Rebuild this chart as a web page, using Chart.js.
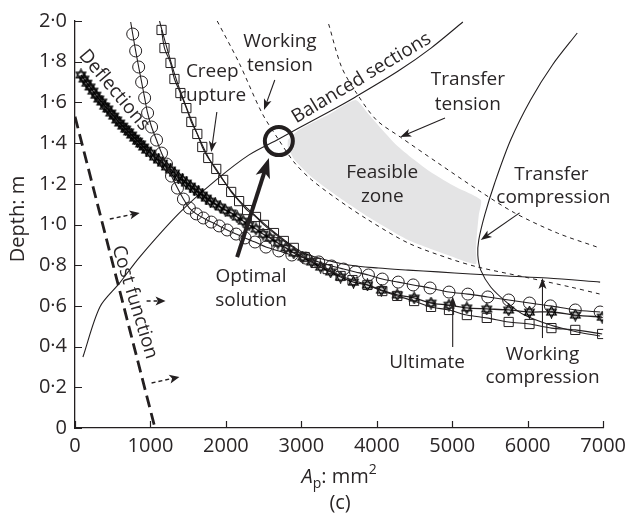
<!DOCTYPE html>
<html>
<head>
<meta charset="utf-8">
<script src="https://cdn.jsdelivr.net/npm/chart.js@4.4.1/dist/chart.umd.min.js"></script>
<style>
  html, body { margin: 0; padding: 0; background: #fff; }
  #wrap { width: 632px; height: 515px; }
</style>
</head>
<body>
<div id="wrap"><canvas id="chart" width="632" height="515"></canvas></div>
<script>
// Design space: prestressing steel area A_p (mm²) against section depth (m)

const xTicks = [0, 1000, 2000, 3000, 4000, 5000, 6000, 7000];
const xTickLabels = ['0', '1000', '2000', '3000', '4000', '5000', '6000', '7000'];
const yTicks = [0, 0.2, 0.4, 0.6, 0.8, 1.0, 1.2, 1.4, 1.6, 1.8, 2.0];
const yTickLabels = ['0', '0·2', '0·4', '0·6', '0·8', '1·0', '1·2', '1·4', '1·6', '1·8', '2·0'];

// Cost function contour and its direction arrows
const costFunction = [[0, 1.53], [1060, 0]];
const costArrows = [
  [[461, 1.027], [857, 1.057]],
  [[949, 0.624], [1200, 0.624]],
  [[1015, 0.221], [1384, 0.251]]
];

// Constraint boundaries (plain curves)
const balancedSections = [[105, 0.349], [330, 0.595], [593, 0.713], [857, 0.840], [1384, 1.057],
  [1872, 1.219], [2307, 1.342], [2702, 1.420], [2966, 1.474], [3362, 1.553], [3718, 1.627],
  [4284, 1.754], [4719, 1.867], [5141, 1.995]];
const workingTension = [[1885, 2.0], [2175, 1.794], [2478, 1.548], [2702, 1.415], [2913, 1.302],
  [3137, 1.219], [3493, 1.120], [3889, 1.022], [4416, 0.909], [4943, 0.835], [5339, 0.791],
  [5958, 0.742], [6565, 0.693], [6960, 0.658]];
const transferTension = [[3362, 1.985], [3533, 1.774], [3731, 1.646], [3994, 1.514], [4311, 1.430],
  [4812, 1.302], [5339, 1.170], [5827, 1.057], [6394, 0.958], [6921, 0.889]];
const transferCompression = [[6657, 1.941], [6328, 1.784], [6038, 1.612], [5774, 1.415], [5563, 1.204],
  [5431, 1.047], [5352, 0.924], [5339, 0.850], [5378, 0.776], [5510, 0.693], [5734, 0.614],
  [5958, 0.555], [6301, 0.506], [6657, 0.472], [6960, 0.452]];
const workingCompression = [[1120, 2.0], [1226, 1.857], [1345, 1.710], [1476, 1.577], [1621, 1.445],
  [1780, 1.322], [1951, 1.224], [2175, 1.118], [2399, 1.040], [2637, 0.963], [2795, 0.918],
  [3000, 0.866], [3230, 0.835], [3625, 0.801], [4021, 0.786], [4416, 0.776], [4812, 0.767],
  [5247, 0.757], [5734, 0.747], [6262, 0.737], [6960, 0.717]];

// Constraint boundaries traced point by point
const creepRupture = [[1147, 1.956], [1186, 1.867], [1266, 1.794], [1318, 1.715], [1397, 1.646],
  [1476, 1.572], [1542, 1.504], [1621, 1.445], [1687, 1.381], [1766, 1.327], [1872, 1.273],
  [1964, 1.219], [2070, 1.160], [2175, 1.115], [2281, 1.071], [2399, 1.037], [2505, 0.998],
  [2637, 0.958], [2768, 0.919], [2900, 0.885], [3045, 0.840], [3190, 0.811], [3348, 0.781],
  [3520, 0.747], [3678, 0.727], [3876, 0.703], [4073, 0.673], [4271, 0.649], [4495, 0.624],
  [4719, 0.595], [4957, 0.580], [5194, 0.555], [5458, 0.541], [5748, 0.521], [6024, 0.511],
  [6315, 0.491], [6631, 0.482], [6987, 0.462]];
const ultimate = [[738, 1.995], [765, 1.936], [804, 1.853], [844, 1.774], [883, 1.700], [923, 1.622],
  [962, 1.548], [1015, 1.479], [1081, 1.415], [1147, 1.351], [1213, 1.297], [1279, 1.238],
  [1358, 1.179], [1437, 1.125], [1516, 1.081], [1608, 1.052], [1701, 1.032], [1806, 1.012],
  [1911, 0.993], [2017, 0.973], [2136, 0.953], [2254, 0.934], [2386, 0.914], [2531, 0.889],
  [2702, 0.870], [2874, 0.850], [3058, 0.835], [3230, 0.816], [3401, 0.796], [3559, 0.781],
  [3718, 0.767], [3889, 0.752], [4073, 0.732], [4284, 0.717], [4482, 0.703], [4706, 0.688],
  [4957, 0.668], [5207, 0.658], [5471, 0.644], [5748, 0.629], [6024, 0.614], [6301, 0.600],
  [6631, 0.580], [6960, 0.570]];
const deflections = [[79, 1.735], [119, 1.715], [158, 1.695], [198, 1.676], [237, 1.656], [277, 1.636],
  [316, 1.617], [356, 1.602], [395, 1.582], [435, 1.568], [475, 1.548], [514, 1.533], [554, 1.514],
  [593, 1.499], [633, 1.484], [672, 1.469], [712, 1.455], [751, 1.440], [791, 1.425], [830, 1.410],
  [870, 1.396], [910, 1.381], [949, 1.366], [1002, 1.351], [1055, 1.332], [1107, 1.317],
  [1160, 1.302], [1213, 1.283], [1266, 1.268], [1318, 1.253], [1371, 1.233], [1424, 1.219],
  [1476, 1.204], [1529, 1.189], [1582, 1.174], [1635, 1.160], [1687, 1.145], [1740, 1.130],
  [1793, 1.115], [1859, 1.101], [1925, 1.086], [1991, 1.071], [2070, 1.057], [2149, 1.037],
  [2228, 1.017], [2307, 0.998], [2399, 0.978], [2492, 0.953], [2584, 0.934], [2689, 0.909],
  [2795, 0.885], [2900, 0.860], [3019, 0.840], [3137, 0.816], [3256, 0.791], [3388, 0.767],
  [3520, 0.742], [3691, 0.717], [3876, 0.703], [4060, 0.678], [4271, 0.654], [4495, 0.639],
  [4719, 0.614], [4957, 0.604], [5194, 0.590], [5458, 0.585], [5748, 0.580], [6024, 0.570],
  [6315, 0.570], [6631, 0.555], [6987, 0.545]];

// Region satisfying every constraint
const feasibleZone = [[2821, 1.415], [2966, 1.464], [3362, 1.540], [3718, 1.612], [3889, 1.543],
  [4087, 1.459], [4245, 1.396], [4482, 1.322], [4733, 1.253], [5049, 1.184], [5379, 1.120],
  [5352, 1.047], [5326, 0.948], [5313, 0.875], [5313, 0.806], [4943, 0.850], [4416, 0.924],
  [3889, 1.037], [3493, 1.135], [3137, 1.233], [2913, 1.317], [2821, 1.381], [2821, 1.415]];

// Optimum and the arrows pointing at it / at each boundary
const optimum = [[2702, 1.410]];
const optimumArrow = [[2149, 0.840], [2570, 1.327]];
const pointerArrows = [
  [[2648, 1.710], [2505, 1.563]],
  [[1880, 1.553], [1806, 1.356]],
  [[4904, 1.523], [4311, 1.430]],
  [[5893, 1.057], [5378, 0.924]],
  [[5006, 0.398], [5006, 0.648]],
  [[6196, 0.442], [6196, 0.737]]
];

// Annotation texts (anchored in data units)
const notes = [
  { t: 'Working', x: 2716, y: 1.872 }, { t: 'tension', x: 2716, y: 1.754 },
  { t: 'Creep', x: 1819, y: 1.725 }, { t: 'rupture', x: 1819, y: 1.607 },
  { t: 'Transfer', x: 5207, y: 1.686 }, { t: 'tension', x: 5207, y: 1.563 },
  { t: 'Feasible', x: 4073, y: 1.229 }, { t: 'zone', x: 4073, y: 1.111 },
  { t: 'Transfer', x: 6315, y: 1.219 }, { t: 'compression', x: 6341, y: 1.106 },
  { t: 'Optimal', x: 2333, y: 0.717 }, { t: 'solution', x: 2333, y: 0.600 },
  { t: 'Ultimate', x: 4667, y: 0.295 },
  { t: 'Working', x: 6196, y: 0.334 }, { t: 'compression', x: 6196, y: 0.221 },
  { t: 'Deflections', x: 520, y: 1.660, rot: 50 },
  { t: 'Balanced sections', x: 3797, y: 1.720, rot: -31 },
  { t: 'Cost function', x: 791, y: 0.619, rot: 73 }
];

const INK = '#231f20';
const FONT = '"Open Sans", "DejaVu Sans", sans-serif';

const pts = arr => arr.map(([x, y]) => ({ x, y }));

// open hexagram marker
function hexagram(size) {
  const c = document.createElement('canvas');
  c.width = c.height = size;
  const g = c.getContext('2d');
  const r = size / 2 - 1, cx = size / 2, cy = size / 2;
  g.strokeStyle = '#000';
  g.lineWidth = 1.25;
  [-Math.PI / 2, Math.PI / 2].forEach(rot => {
    g.beginPath();
    for (let i = 0; i < 3; i++) {
      const a = rot + i * 2 * Math.PI / 3;
      const px = cx + r * Math.cos(a), py = cy + r * Math.sin(a);
      i ? g.lineTo(px, py) : g.moveTo(px, py);
    }
    g.closePath();
    g.stroke();
  });
  return c;
}

function drawArrow(ctx, x1, y1, x2, y2, len, wid, lw, dash) {
  const a = Math.atan2(y2 - y1, x2 - x1);
  const bx = x2 - len * Math.cos(a), by = y2 - len * Math.sin(a);
  ctx.save();
  ctx.lineWidth = lw;
  ctx.setLineDash(dash || []);
  ctx.beginPath();
  ctx.moveTo(x1, y1);
  ctx.lineTo(bx + 0.3 * len * Math.cos(a), by + 0.3 * len * Math.sin(a));
  ctx.stroke();
  ctx.setLineDash([]);
  const nx = Math.sin(a) * wid / 2, ny = -Math.cos(a) * wid / 2;
  ctx.beginPath();
  ctx.moveTo(x2, y2);
  ctx.lineTo(bx + nx, by + ny);
  ctx.lineTo(bx + 0.25 * len * Math.cos(a), by + 0.25 * len * Math.sin(a));
  ctx.lineTo(bx - nx, by - ny);
  ctx.closePath();
  ctx.fill();
  ctx.restore();
}

const decor = {
  id: 'decor',
  afterDatasetsDraw(chart) {
    const { ctx, chartArea: a, scales: { x, y } } = chart;
    const X = v => x.getPixelForValue(v), Y = v => y.getPixelForValue(v);
    ctx.save();
    ctx.strokeStyle = INK;
    ctx.fillStyle = INK;

    // inward tick marks
    ctx.lineWidth = 1.2;
    ctx.beginPath();
    xTicks.forEach(v => { const px = Math.round(X(v)) + 0.5; ctx.moveTo(px, a.bottom); ctx.lineTo(px, a.bottom - 7); });
    yTicks.forEach(v => { const py = Math.round(Y(v)) + 0.5; ctx.moveTo(a.left, py); ctx.lineTo(a.left + 7, py); });
    ctx.stroke();

    // cost direction arrows
    costArrows.forEach(([p, q]) => drawArrow(ctx, X(p[0]), Y(p[1]), X(q[0]), Y(q[1]), 10, 9, 1.4, [4, 3]));
    // label pointers
    pointerArrows.forEach(([p, q]) => drawArrow(ctx, X(p[0]), Y(p[1]), X(q[0]), Y(q[1]), 11, 8, 1.1));
    // arrow to the optimum
    drawArrow(ctx, X(optimumArrow[0][0]), Y(optimumArrow[0][1]), X(optimumArrow[1][0]), Y(optimumArrow[1][1]), 20, 15, 4);

    // annotation text
    ctx.font = '19px ' + FONT;
    ctx.fillStyle = '#2a2627';
    ctx.textAlign = 'center';
    notes.forEach(n => {
      const px = X(n.x), py = Y(n.y);
      if (n.rot) {
        ctx.save();
        ctx.translate(px, py);
        ctx.rotate(n.rot * Math.PI / 180);
        ctx.textBaseline = 'middle';
        ctx.fillText(n.t, 0, 0);
        ctx.restore();
      } else {
        ctx.textBaseline = 'alphabetic';
        ctx.fillText(n.t, px, py);
      }
    });
    ctx.restore();
  },
  afterDraw(chart) {
    const { ctx, chartArea: a } = chart;
    ctx.save();
    ctx.fillStyle = '#2a2627';
    // y title
    ctx.font = '20px ' + FONT;
    ctx.textAlign = 'center';
    ctx.textBaseline = 'middle';
    ctx.save();
    ctx.translate(18, 219);
    ctx.rotate(-Math.PI / 2);
    ctx.fillText('Depth: m', 0, 0);
    ctx.restore();

    // x title: A_p: mm²
    const cx = (a.left + a.right) / 2, base = 483;
    const parts = [
      { t: 'A', f: 'italic 20px ' + FONT, dy: 0 },
      { t: 'p', f: '14px ' + FONT, dy: 5 },
      { t: ': mm', f: '20px ' + FONT, dy: 0 },
      { t: '2', f: '14px ' + FONT, dy: -9 }
    ];
    let w = 0;
    parts.forEach(p => { ctx.font = p.f; p.w = ctx.measureText(p.t).width; w += p.w; });
    let px = cx - w / 2;
    ctx.textAlign = 'left';
    ctx.textBaseline = 'alphabetic';
    parts.forEach(p => { ctx.font = p.f; ctx.fillText(p.t, px, base + p.dy); px += p.w; });

    ctx.font = '20px ' + FONT;
    ctx.textAlign = 'center';
    ctx.fillText('(c)', cx + 1, 509);
    ctx.restore();
  }
};

function build() {
  const line = (data, extra) => Object.assign({
    data: pts(data), showLine: true, borderColor: INK, borderWidth: 1.1,
    pointRadius: 0, fill: false, tension: 0.3
  }, extra);

  const datasets = [
    line(optimum, { showLine: false, pointRadius: 14, pointBorderWidth: 4, pointBorderColor: INK,
      pointBackgroundColor: 'rgba(0,0,0,0)', order: 0 }),
    line(costFunction, { borderWidth: 2.8, borderDash: [12, 6], tension: 0, order: 1 }),
    line(ultimate, { pointRadius: c => c.dataIndex === 0 ? 0 : 6, pointStyle: 'circle', pointBorderWidth: 1,
      pointBorderColor: INK, pointBackgroundColor: 'rgba(0,0,0,0)', order: 2 }),
    line(creepRupture, { pointRadius: 6.5, pointStyle: 'rect', pointBorderWidth: 1,
      pointBorderColor: INK, pointBackgroundColor: 'rgba(0,0,0,0)', order: 2 }),
    line(deflections, { pointRadius: 6, pointStyle: hexagram(13), borderWidth: 1.3, order: 2 }),
    line(workingCompression, { order: 3 }),
    line(balancedSections, { order: 3 }),
    line(transferCompression, { order: 3 }),
    line(workingTension, { borderDash: [4, 4], borderWidth: 1, order: 3 }),
    line(transferTension, { borderDash: [4, 4], borderWidth: 1, order: 3 }),
    line(feasibleZone, { borderWidth: 0, tension: 0.2, fill: 'shape', backgroundColor: '#e4e4e5', order: 10 })
  ];

  new Chart(document.getElementById('chart'), {
    type: 'scatter',
    data: { datasets },
    options: {
      responsive: false,
      animation: false,
      devicePixelRatio: 1,
      layout: { padding: { top: 21, right: 26, left: 0, bottom: 0 } },
      plugins: { legend: { display: false }, tooltip: { enabled: false } },
      scales: {
        x: {
          type: 'linear', min: 0, max: 7000,
          afterBuildTicks: s => { s.ticks = xTicks.map(v => ({ value: v })); },
          afterFit: s => { s.height = 87; },
          ticks: { callback: (v, i) => xTickLabels[i], color: '#2a2627', padding: 6,
            font: { family: FONT, size: 20 }, maxRotation: 0 },
          grid: { drawOnChartArea: false, drawTicks: false },
          border: { display: true, color: INK, width: 1.3 }
        },
        y: {
          type: 'linear', min: 0, max: 2,
          afterBuildTicks: s => { s.ticks = yTicks.map(v => ({ value: v })); },
          afterFit: s => { s.width = 75; },
          ticks: { callback: (v, i) => yTickLabels[i], color: '#2a2627', padding: 8,
            font: { family: FONT, size: 20 } },
          grid: { drawOnChartArea: false, drawTicks: false },
          border: { display: true, color: INK, width: 1.3 }
        }
      }
    },
    plugins: [decor]
  });
}

Promise.all([
  document.fonts.load('20px "Open Sans"'),
  document.fonts.load('italic 20px "Open Sans"')
]).then(build, build);
</script>
</body>
</html>
